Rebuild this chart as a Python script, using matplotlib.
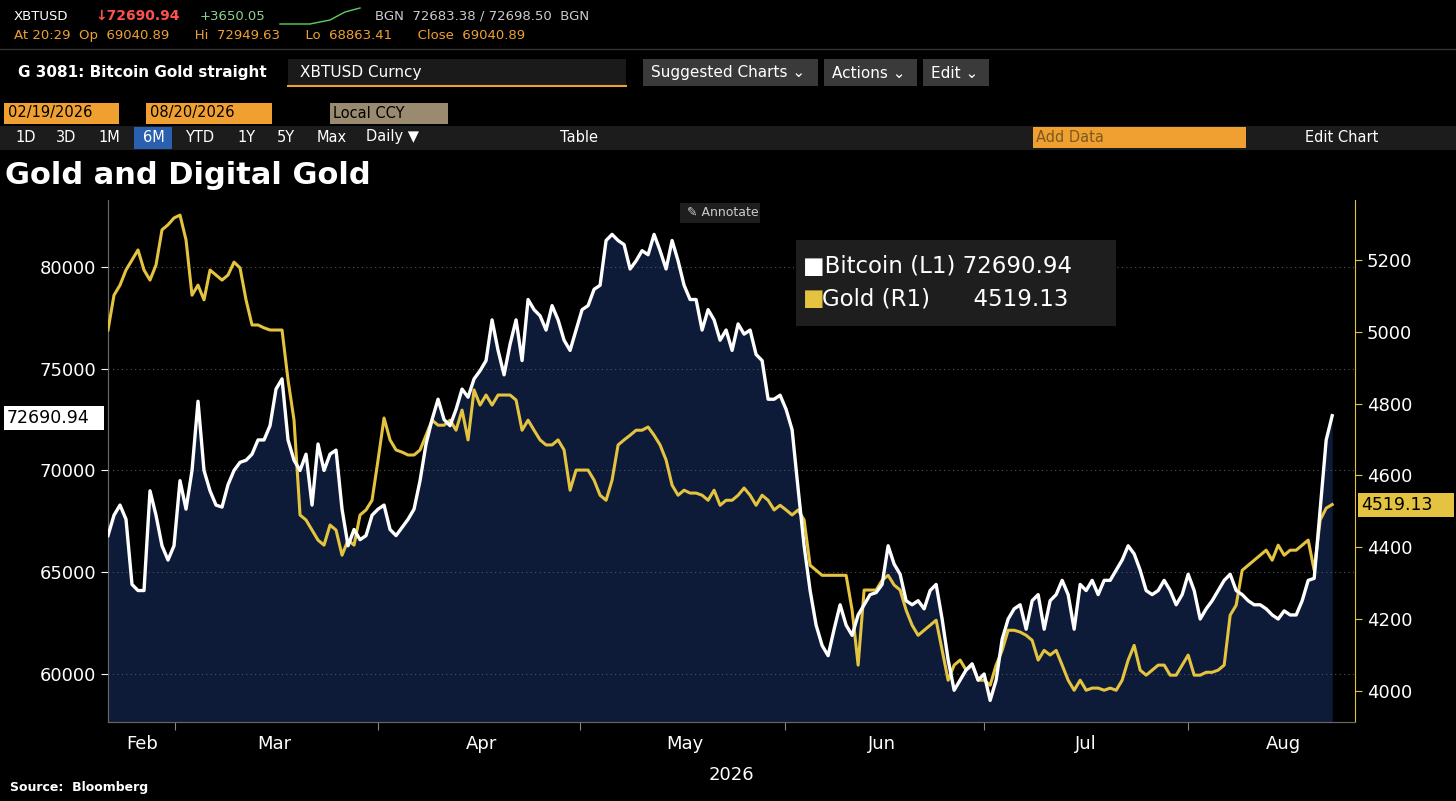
import matplotlib
matplotlib.use("Agg")
import matplotlib.pyplot as plt
from matplotlib.patches import Rectangle
import numpy as np

bitcoin_k = [66.8,67.8,68.3,67.6,64.4,64.1,64.1,69.0,67.8,66.3,65.6,66.3,69.5,68.1,70.0,73.4,70.0,69.0,68.3,68.2,
69.3,70.0,70.4,70.5,70.8,71.5,71.5,72.2,74.0,74.5,71.5,70.5,70.0,70.8,68.3,71.3,70.0,70.8,71.0,68.1,
66.3,67.1,66.6,66.8,67.8,68.1,68.3,67.1,66.8,67.2,67.6,68.1,69.5,71.3,72.5,73.5,72.5,72.2,73.0,74.0,
73.6,74.5,74.9,75.4,77.4,75.9,74.7,76.2,77.4,75.4,78.4,77.9,77.6,76.9,78.1,77.4,76.4,75.9,76.9,77.9,
78.1,78.9,79.1,81.3,81.6,81.3,81.1,79.9,80.3,80.8,80.6,81.6,80.8,79.9,81.3,80.3,79.1,78.4,78.4,76.9,
77.9,77.4,76.4,76.9,75.9,77.2,76.7,76.9,75.7,75.4,73.5,73.5,73.7,73.0,72.0,69.1,66.3,64.1,62.4,61.4,
60.9,62.2,63.4,62.4,61.9,62.9,63.4,63.9,64.0,64.4,66.3,65.4,64.9,63.6,63.4,63.6,63.2,64.1,64.4,62.7,
60.7,59.2,59.7,60.2,60.5,59.7,60.0,58.7,59.7,61.7,62.7,63.2,63.4,62.2,63.6,63.9,62.2,63.6,63.9,64.6,
63.9,62.2,64.4,64.1,64.6,63.9,64.6,64.6,65.1,65.6,66.3,65.9,65.1,64.1,63.9,64.1,64.6,64.1,63.4,63.9,
64.9,64.1,62.7,63.2,63.6,64.1,64.6,64.9,64.1,63.9,63.6,63.4,63.4,63.2,62.9,62.7,63.1,62.9,62.9,63.6,
64.6,64.7,68.1,71.5,72.69094]
gold = [5005,5102,5130,5172,5200,5228,5172,5144,5186,5284,5298,5317,5325,5256,5102,5130,5089,5172,5158,5144,
5158,5194,5178,5089,5019,5019,5011,5005,5005,5005,4866,4754,4490,4476,4448,4420,4406,4462,4448,4378,
4420,4406,4490,4504,4531,4643,4760,4699,4671,4665,4657,4657,4671,4712,4754,4740,4740,4754,4726,4782,
4699,4838,4796,4824,4796,4824,4824,4824,4810,4726,4754,4726,4699,4685,4685,4699,4671,4559,4615,4615,
4615,4587,4545,4531,4587,4685,4699,4712,4726,4726,4735,4712,4685,4643,4573,4545,4559,4551,4551,4545,
4531,4559,4517,4531,4531,4545,4565,4545,4517,4545,4531,4504,4517,4504,4490,4504,4476,4350,4336,4322,
4322,4322,4322,4322,4225,4072,4281,4281,4281,4308,4322,4295,4281,4225,4183,4155,4169,4183,4197,4113,
4030,4072,4086,4058,4072,4030,4030,4016,4072,4113,4169,4169,4164,4155,4141,4086,4113,4100,4113,4072,
4030,4002,4030,4002,4008,4008,4002,4008,4002,4030,4086,4127,4058,4044,4058,4072,4072,4044,4044,4072,
4100,4044,4044,4052,4052,4058,4072,4211,4239,4336,4350,4364,4378,4392,4364,4406,4378,4392,4392,4406,
4420,4336,4476,4509,4519.13]
months = ["Feb","Mar","Apr","May","Jun","Jul","Aug"]
month_pos = [5.7,27.7,62.2,96.2,129,163,195.8]
month_bounds = [11.2,45,78.7,112.8,146,180]
left_ticks = [60000,65000,70000,75000,80000]
right_ticks = [4000,4200,4400,4600,4800,5000,5200]

btc = np.array(bitcoin_k)*1000
GOLDC = "#e3c33f"
W, H = 1456, 801
fig = plt.figure(figsize=(W/100, H/100), dpi=100, facecolor="black")

ui = fig.add_axes([0,0,1,1]); ui.set_xlim(0,W); ui.set_ylim(H,0); ui.axis("off")
def box(a,x,y,w,h,c): a.add_patch(Rectangle((x,y),w,h,color=c,lw=0))
def t(a,x,y,s,c="white",sz=10,**k): a.text(x,y,s,color=c,fontsize=sz,va="center",**k)
t(ui,14,16,"XBTUSD",sz=9.5); t(ui,95,16,"↓72690.94",c="#ff5050",sz=10,weight="bold")
t(ui,200,16,"+3650.05",c="#8fd18f",sz=9.5); t(ui,375,16,"BGN  72683.38 / 72698.50  BGN",c="#cccccc",sz=9.5)
ui.plot([280,310,330,345,360],[24,24,20,12,8],color="#5fcf5f",lw=1)
t(ui,14,36,"At 20:29  Op  69040.89      Hi  72949.63      Lo  68863.41      Close  69040.89",c="#f0a030",sz=9.5)
ui.plot([0,W],[49,49],color="#333",lw=1)
t(ui,18,73,"G 3081: Bitcoin Gold straight",sz=11,weight="bold")
box(ui,288,59,338,27,"#1a1a1a"); ui.plot([288,626],[86,86],color="#f0a030",lw=1.5); t(ui,300,72,"XBTUSD Curncy",sz=11)
for x,w,s in [(643,175,"Suggested Charts ⌄"),(824,93,"Actions ⌄"),(923,66,"Edit ⌄")]:
    box(ui,x,59,w,27,"#3a3a3a"); t(ui,x+8,73,s,sz=11)
box(ui,4,103,115,21,"#f0a030"); t(ui,8,113,"02/19/2026",c="black",sz=10.5)
box(ui,146,103,126,21,"#f0a030"); t(ui,150,113,"08/20/2026",c="black",sz=10.5)
box(ui,330,103,118,21,"#9a8a70"); t(ui,333,113,"Local CCY",c="black",sz=10.5)
box(ui,0,126,W,24,"#1c1c1c")
tabs=[(15,"1D"),(56,"3D"),(98,"1M"),(143,"6M"),(185,"YTD"),(237,"1Y"),(277,"5Y"),(317,"Max"),(366,"Daily ▼"),(560,"Table")]
box(ui,134,127,38,22,"#2b5fb0")
for x,s in tabs: t(ui,x,137,s,sz=10.5)
box(ui,1033,127,213,21,"#f0a030"); t(ui,1036,137,"Add Data",c="#7a5a20",sz=10.5)
t(ui,1305,137,"Edit Chart",sz=10.5)
ui.text(5,176,"Gold and Digital Gold",color="white",fontsize=22,weight="bold",va="center")
ui.text(10,787,"Source:  Bloomberg",color="white",fontsize=9,weight="bold",va="center")

ax = fig.add_axes([108/W, 1-722/H, (1355-108)/W, (722-200)/H])
ax.set_facecolor("black")
x = np.arange(len(btc))
xg = np.arange(len(gold))
ax.set_xlim(0, 207.8)
ax.set_ylim(57640, 83290)
ax.fill_between(x, btc, 57640, color="#0d1b38", lw=0)
for v in left_ticks:
    ax.axhline(v, color="#555", lw=0.8, ls=(0,(1,3)))
ax2 = ax.twinx()
ax2.set_ylim(3913.6, 5367)
ax2.patch.set_visible(False)
ax2.plot(xg, gold, color=GOLDC, lw=2.2, zorder=3)
ax2.plot(x, btc, color="white", lw=2.4, zorder=4, transform=ax.transData)
ax.set_yticks(left_ticks); ax.set_yticklabels([str(v) for v in left_ticks])
ax2.set_yticks(right_ticks)
ax.tick_params(axis="y", colors="white", labelsize=13, length=5)
ax2.tick_params(axis="y", colors=GOLDC, labelcolor="white", labelsize=13, length=5)
ax.set_xticks(month_bounds); ax.set_xticklabels([])
ax.tick_params(axis="x", colors="#888", length=6)
for p,m in zip(month_pos, months):
    ax.text(p, -0.025, m, transform=ax.get_xaxis_transform(), color="white", fontsize=13, ha="center", va="top")
ax.text(0.5, -0.085, "2026", transform=ax.transAxes, color="white", fontsize=13, ha="center", va="top")
for a in (ax, ax2):
    a.spines["top"].set_visible(False)
    a.spines["left"].set_color("#666"); a.spines["bottom"].set_color("#666")
ax2.spines["right"].set_color(GOLDC)
ax.spines["right"].set_visible(False)

top = fig.add_axes([0,0,1,1]); top.set_xlim(0,W); top.set_ylim(H,0); top.axis("off")
box(top,796,240,320,86,"#1e1e1e")
top.text(803,267,"■Bitcoin (L1) 72690.94",color="white",fontsize=16.5,va="center")
top.text(803,299,"■",color=GOLDC,fontsize=16.5,va="center")
top.text(822,299,"Gold (R1)      4519.13",color="white",fontsize=16.5,va="center")
box(top,680,203,80,20,"#1e1e1e"); t(top,687,213,"✎ Annotate",c="#ccc",sz=9)
box(top,4,406,100,24,"white"); t(top,7,418,"72690.94",c="black",sz=12.5)
box(top,1358,493,96,24,GOLDC); t(top,1361,505,"4519.13",c="black",sz=12.5)

fig.savefig("out.png", dpi=100, facecolor="black")
